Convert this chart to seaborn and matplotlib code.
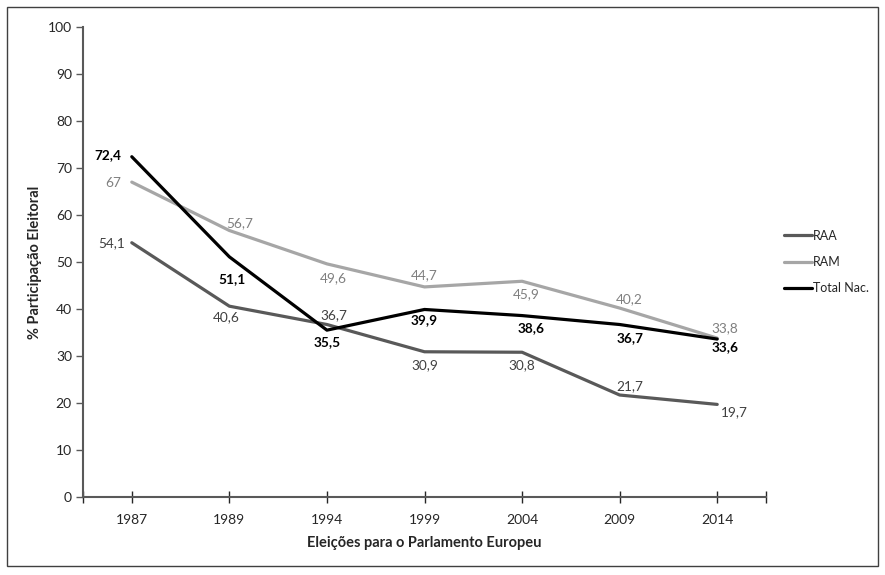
import matplotlib
matplotlib.use('Agg')
import matplotlib.pyplot as plt
from matplotlib.patches import Rectangle
import pandas as pd
import seaborn as sns

years = ['1987', '1989', '1994', '1999', '2004', '2009', '2014']
raa = [54.1, 40.6, 36.7, 30.9, 30.8, 21.7, 19.7]
ram = [67, 56.7, 49.6, 44.7, 45.9, 40.2, 33.8]
total = [72.4, 51.1, 35.5, 39.9, 38.6, 36.7, 33.6]
series_names = ['RAA', 'RAM', 'Total Nac.']

# label offsets in pixels (dx, dy), like the Excel placement
offsets = {
    'RAA': [(-20, 0), (-3, -11), (7, 9), (0, -13), (0, -13), (10, 9), (17, -8)],
    'RAM': [(-19, -1), (10, 7), (6, -14), (0, 12), (4, -13), (10, 9), (8, 10)],
    'Total Nac.': [(-24, 2), (3, -22), (0, -12), (0, -11), (9, -12), (10, -14), (8, -8)],
}
colors = {'RAA': '#595959', 'RAM': '#a6a6a6', 'Total Nac.': '#000000'}
label_colors = {'RAA': '#404040', 'RAM': '#7f7f7f', 'Total Nac.': '#000000'}
label_weight = {'RAA': 'normal', 'RAM': 'normal', 'Total Nac.': 'bold'}


def fmt(v):
    s = ('%.1f' % v).rstrip('0').rstrip('.')
    return s.replace('.', ',')


def run():
    sns.set_style('white')
    plt.rcParams['font.family'] = ['Lato', 'DejaVu Sans']

    df = pd.DataFrame({
        'year': years * 3,
        'value': raa + ram + total,
        'serie': [n for n in series_names for _ in years],
    })

    fig = plt.figure(figsize=(8.85, 5.75), dpi=100)
    ax = fig.add_axes([83 / 885, 1 - 497 / 575, (766 - 83) / 885, (497 - 27) / 575])
    sns.lineplot(data=df, x='year', y='value', hue='serie', palette=colors,
                 sort=False, linewidth=2.3, ax=ax, legend=True)

    for name in series_names:
        vals = df[df.serie == name].value.tolist()
        for i, v in enumerate(vals):
            dx, dy = offsets[name][i]
            ax.annotate(fmt(v), (i, v), xytext=(dx, dy), textcoords='offset pixels',
                        ha='center', va='center', fontsize=9.8,
                        color=label_colors[name], fontweight=label_weight[name])

    ax.set_xlim(-0.5, len(years) - 0.5)
    ax.set_ylim(0, 100)
    ax.set_yticks(range(0, 101, 10))
    ax.set_xticks(range(len(years)))
    ax.set_xticklabels(years)
    ax.set_xticks([-0.5, len(years) - 0.5], minor=True)
    ax.tick_params(axis='y', direction='out', length=5, width=1, color='#595959',
                   labelsize=10, left=True, pad=3)
    ax.tick_params(axis='x', which='both', direction='inout', length=9, width=1,
                   color='#262626', labelsize=10, bottom=True, pad=8)
    for side in ['top', 'right']:
        ax.spines[side].set_visible(False)
    for side in ['left', 'bottom']:
        ax.spines[side].set_color('#595959')
        ax.spines[side].set_linewidth(1.5)

    ax.set_xlabel('Eleições para o Parlamento Europeu', fontsize=10.5, fontweight='bold', labelpad=7)
    ax.set_ylabel('% Participação Eleitoral', fontsize=10.5, fontweight='bold', labelpad=4)

    handles, labels = ax.get_legend_handles_labels()
    ax.legend(handles, labels, loc='center left', bbox_to_anchor=(1.01, 0.5),
              frameon=False, fontsize=9, handlelength=2.2, labelspacing=1.15,
              handletextpad=0.1)

    fig.patches.append(Rectangle((7 / 885, 1 - 566 / 575), 871 / 885, 559 / 575,
                                 transform=fig.transFigure, fill=False,
                                 edgecolor='#404040', linewidth=1))
    fig.savefig('out.png', dpi=100)


if __name__ == '__main__':
    run()
